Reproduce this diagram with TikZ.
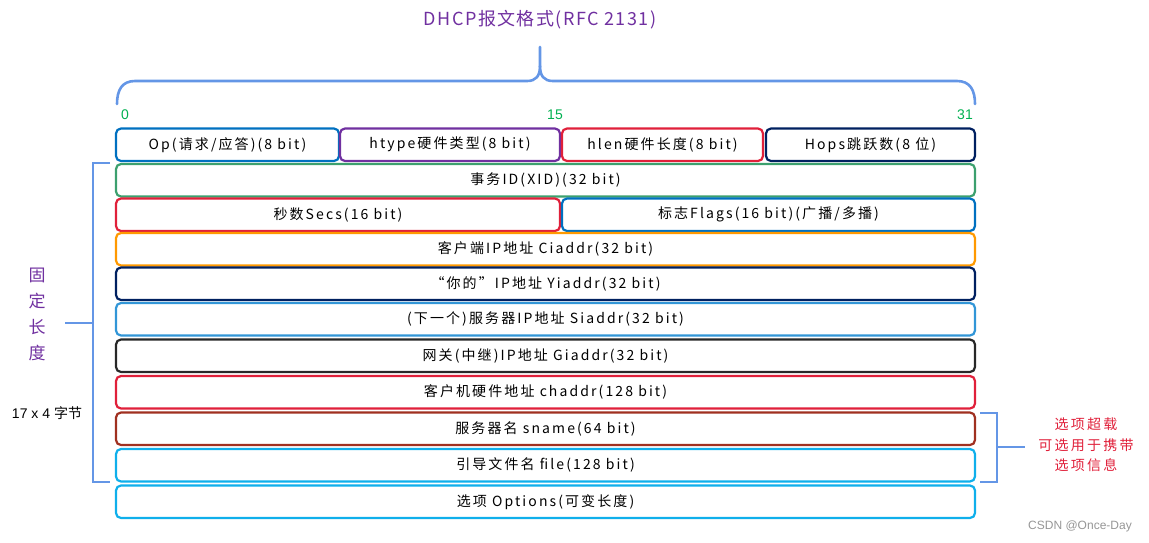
\documentclass[tikz,border=0pt]{standalone}
\usepackage{fontspec}
\setmainfont{Noto Sans CJK SC}
\newfontfamily\lat{Liberation Sans}
\newfontfamily\boxfont[LetterSpace=15]{Noto Sans CJK SC}
\newfontfamily\titlefont[LetterSpace=8]{Noto Sans CJK SC}
\newfontfamily\notefont[LetterSpace=16]{Noto Sans CJK SC}
\definecolor{cBlue}{RGB}{0,112,192}
\definecolor{cPurple}{RGB}{112,48,160}
\definecolor{cRed}{RGB}{224,32,58}
\definecolor{cNavy}{RGB}{0,32,96}
\definecolor{cGreen}{RGB}{60,160,110}
\definecolor{cOrange}{RGB}{255,153,0}
\definecolor{cLBlue}{RGB}{50,150,215}
\definecolor{cGray}{RGB}{40,40,40}
\definecolor{cBrown}{RGB}{160,48,32}
\definecolor{cCyan}{RGB}{15,175,235}
\definecolor{cBrace}{RGB}{100,150,230}
\definecolor{cNum}{RGB}{0,176,80}
\definecolor{cWm}{RGB}{150,150,150}
\begin{document}
\begin{tikzpicture}[x=1pt,y=-1pt,
  fld/.style={draw, line width=2.2pt, rounded corners=5pt, anchor=north west,
    minimum height=32.5pt, inner sep=0pt, outer sep=0pt, font=\boxfont\fontsize{14}{16}\selectfont},
  brace/.style={draw=cBrace, line width=2.6pt},
  num/.style={text=cNum, font=\lat\fontsize{14}{16}\selectfont, inner sep=0pt}]
\useasboundingbox (0,0) rectangle (1149,542);
% title
\node[text=cPurple, font=\titlefont\fontsize{18}{20}\selectfont, inner sep=0pt] (title) at (540,20) {DHCP报文格式(RFC 2131)};
% top brace
\coordinate (tip) at (540,47);
\draw[brace, line cap=round] (117,104) .. controls (117,90) and (122,81) .. (135,81) -- (527,81)
  .. controls (536,81) and (540,76) .. (540,66) -- (tip);
\draw[brace, line cap=round] (540,66) .. controls (540,76) and (544,81) .. (553,81) -- (957,81)
  .. controls (970,81) and (975,90) .. (975,104);
% bit numbers
\node[num] (b0) at (125,115) {0};
\node[num] (b15) at (555,115) {15};
\node[num] (b31) at (965,115) {31};
% row 0
\node[fld, draw=cBlue, minimum width=223pt] (op) at (116,128.5) {Op(请求/应答)(8 bit)};
\node[fld, draw=cPurple, minimum width=220pt] (htype) at (340,128.5) {htype硬件类型(8 bit)};
\node[fld, draw=cRed, minimum width=201pt] (hlen) at (562,128.5) {hlen硬件长度(8 bit)};
\node[fld, draw=cNavy, minimum width=209pt] (hops) at (766,128.5) {Hops跳跃数(8 位)};
% rows
\node[fld, draw=cGreen, minimum width=859pt] (xid) at (116,164) {事务ID(XID)(32 bit)};
\node[fld, draw=cRed, minimum width=444pt] (secs) at (116,198.5) {秒数Secs(16 bit)};
\node[fld, draw=cBlue, minimum width=413pt] (flags) at (562,198.5) {标志Flags(16 bit)(广播/多播)};
\node[fld, draw=cOrange, minimum width=859pt] (ciaddr) at (116,233) {客户端IP地址 Ciaddr(32 bit)};
\node[fld, draw=cNavy, minimum width=859pt] (yiaddr) at (116,267.5) {“你的”IP地址 Yiaddr(32 bit)};
\node[fld, draw=cLBlue, minimum width=859pt] (siaddr) at (116,303) {(下一个)服务器IP地址 Siaddr(32 bit)};
\node[fld, draw=cGray, minimum width=859pt] (giaddr) at (116,339.5) {网关(中继)IP地址 Giaddr(32 bit)};
\node[fld, draw=cRed, minimum width=859pt] (chaddr) at (116,376) {客户机硬件地址 chaddr(128 bit)};
\node[fld, draw=cBrown, minimum width=859pt] (sname) at (116,412.5) {服务器名 sname(64 bit)};
\node[fld, draw=cCyan, minimum width=859pt] (file) at (116,449) {引导文件名 file(128 bit)};
\node[fld, draw=cCyan, minimum width=859pt] (opts) at (116,485.5) {选项 Options(可变长度)};
% left bracket
\draw[brace] (110,163) -- (93,163) -- (93,482) -- (110,482);
\coordinate (lmid) at (93,323);
\coordinate (ltick) at (65,323);
\draw[brace] (ltick) -- (lmid);
\node[text=cPurple, font=\fontsize{17}{26}\selectfont, align=center, inner sep=0pt] (fixed) at (37,314) {固\\定\\长\\度};
\node[font=\fontsize{14}{16}\selectfont, inner sep=0pt] (bytes) at (47,413) {{\lat 17 x 4 }字节};
% right bracket
\draw[brace] (980,413) -- (997,413) -- (997,482) -- (980,482);
\coordinate (rmid) at (997,447);
\coordinate (rtick) at (1025,447);
\draw[brace] (rmid) -- (rtick);
\node[text=cRed, font=\notefont\fontsize{14}{20.5}\selectfont, align=center, inner sep=0pt] (ovl) at (1086,445) {选项超载\\可选用于携带\\选项信息};
% watermark
\node[text=cWm, font=\lat\fontsize{12}{14}\selectfont, inner sep=0pt] (wm) at (1080,526) {CSDN @Once-Day};
\end{tikzpicture}
\end{document}
